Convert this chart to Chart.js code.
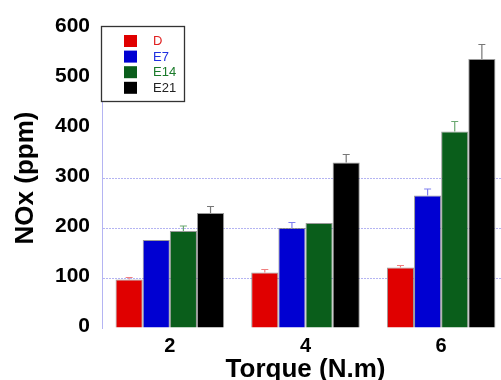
<!DOCTYPE html>
<html>
<head>
<meta charset="utf-8">
<script src="https://cdn.jsdelivr.net/npm/chart.js@4/dist/chart.umd.min.js"></script>
<style>
  html, body { margin: 0; padding: 0; background: #fff; overflow: hidden; }
  #wrap { width: 501px; height: 380px; overflow: hidden; }
</style>
</head>
<body>
<div id="wrap"><canvas id="chart-nox" width="510" height="380"></canvas></div>
<script>
// torque values (N.m)
const torques = ['2', '4', '6'];
const seriesNames = ['D', 'E7', 'E14', 'E21'];

// NOx (ppm) per fuel
const noxD   = [97, 111, 121];
const noxE7  = [176, 200, 265];
const noxE14 = [194, 210, 393];
const noxE21 = [230, 331, 538];

// upper error bars
const errD   = [4, 6, 4];
const errE7  = [0, 11, 13];
const errE14 = [10, 0, 20];
const errE21 = [13, 16, 29];

const yTicks = [0, 100, 200, 300, 400, 500, 600];
const gridValues = [100, 200, 300];

const barColors = ['#e00000', '#0000d2', '#0a5e1b', '#000000'];
const errColors = ['#f08080', '#8080f0', '#6aa870', '#777777'];
const labelColors = ['#e02020', '#2030e0', '#1a7a2a', '#222222'];

const gridBlue = '#b4b4f2';

const errorBarsPlugin = {
  id: 'errorBars',
  afterDatasetsDraw(chart) {
    const ctx = chart.ctx;
    const yScale = chart.scales.y;
    chart.data.datasets.forEach((ds, di) => {
      const meta = chart.getDatasetMeta(di);
      meta.data.forEach((bar, i) => {
        const e = ds.errors[i];
        if (!e) return;
        const yTop = yScale.getPixelForValue(ds.data[i] + e);
        ctx.save();
        ctx.strokeStyle = errColors[di];
        ctx.lineWidth = 1.2;
        ctx.beginPath();
        ctx.moveTo(bar.x, bar.y);
        ctx.lineTo(bar.x, yTop);
        ctx.moveTo(bar.x - 3.5, yTop);
        ctx.lineTo(bar.x + 3.5, yTop);
        ctx.stroke();
        ctx.restore();
      });
    });
  }
};

const legendBoxPlugin = {
  id: 'legendBox',
  afterDraw(chart) {
    const ctx = chart.ctx;
    const x0 = 101, y0 = 26, w = 83, h = 75;
    ctx.save();
    ctx.fillStyle = '#fff';
    ctx.fillRect(x0, y0, w, h);
    ctx.strokeStyle = '#333';
    ctx.lineWidth = 1.3;
    ctx.strokeRect(x0 + 0.5, y0 + 0.5, w, h);
    ctx.font = '13px "Liberation Sans", Arial, sans-serif';
    ctx.textBaseline = 'middle';
    chart.data.datasets.forEach((ds, i) => {
      const cy = 41 + i * 15.6;
      ctx.fillStyle = barColors[i];
      ctx.fillRect(124, cy - 6, 13, 12);
      ctx.fillStyle = labelColors[i];
      ctx.fillText(ds.label, 153, cy + 0.5);
    });
    ctx.restore();
  }
};

const makeSet = (i, data, errors) => ({
  label: seriesNames[i],
  data: data,
  errors: errors,
  backgroundColor: barColors[i],
  borderColor: 'rgba(110,110,110,0.7)',
  borderWidth: 1,
  categoryPercentage: 0.8,
  barPercentage: 1.0
});

new Chart(document.getElementById('chart-nox').getContext('2d'), {
  type: 'bar',
  data: {
    labels: torques,
    datasets: [
      makeSet(0, noxD, errD),
      makeSet(1, noxE7, errE7),
      makeSet(2, noxE14, errE14),
      makeSet(3, noxE21, errE21)
    ]
  },
  options: {
    responsive: false,
    animation: false,
    devicePixelRatio: 1,
    layout: { padding: { top: 28, right: 1, left: 0, bottom: 0 } },
    plugins: {
      legend: { display: false },
      tooltip: { enabled: false }
    },
    scales: {
      x: {
        grid: { display: false, drawTicks: false },
        border: { display: false },
        ticks: {
          color: '#000',
          padding: 6,
          font: { family: 'Liberation Sans', size: 20, weight: 'bold' }
        },
        title: {
          display: true,
          text: 'Torque (N.m)',
          color: '#000',
          padding: { top: 0, bottom: -5 },
          font: { family: 'Liberation Sans', size: 26, weight: 'bold' }
        },
        afterFit(scale) { scale.height = 52; }
      },
      y: {
        min: 0,
        max: 600,
        afterBuildTicks(scale) { scale.ticks = yTicks.map(v => ({ value: v })); },
        grid: {
          drawTicks: false,
          color: c => gridValues.includes(c.tick.value) ? gridBlue : 'rgba(0,0,0,0)',
          lineWidth: 1
        },
        border: { display: true, color: gridBlue, dash: [2, 1] },
        ticks: {
          color: '#000',
          padding: 12,
          labelOffset: -2,
          font: { family: 'Liberation Sans', size: 21, weight: 'bold' }
        },
        title: {
          display: true,
          text: 'NOx (ppm)',
          color: '#000',
          padding: { top: 10, bottom: 0 },
          font: { family: 'Liberation Sans', size: 26, weight: 'bold' }
        },
        afterFit(scale) { scale.width = 102; }
      }
    }
  },
  plugins: [errorBarsPlugin, legendBoxPlugin]
});
</script>
</body>
</html>
